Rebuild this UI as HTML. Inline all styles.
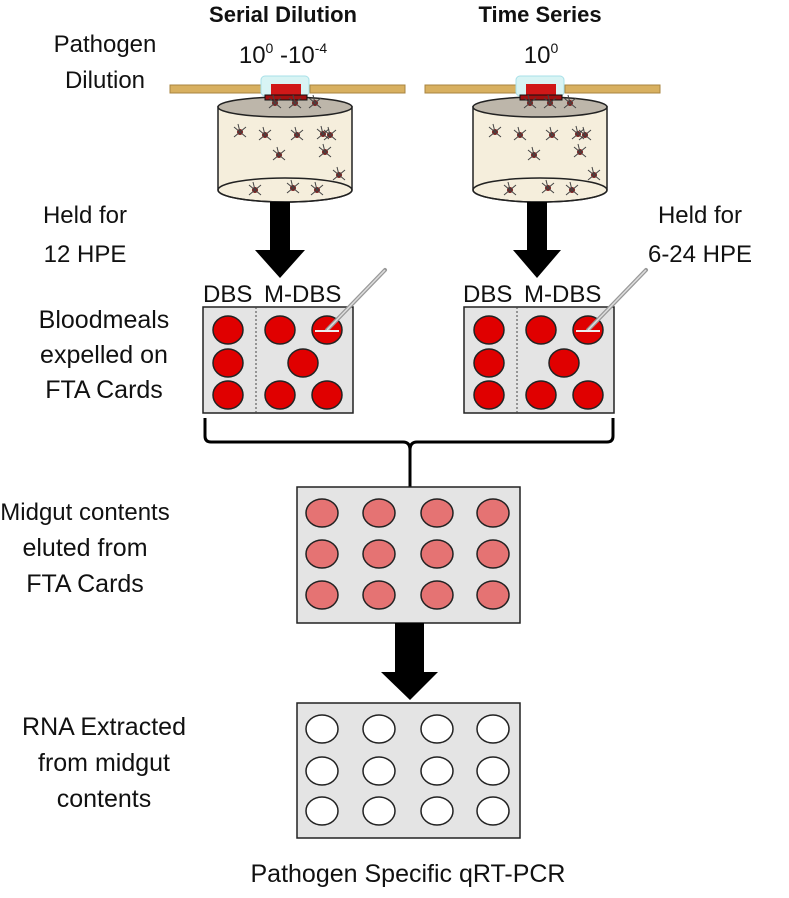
<!DOCTYPE html>
<html><head><meta charset="utf-8"><style>
html,body{margin:0;padding:0;background:#fff}
svg{display:block}
text{font-family:"Liberation Sans",sans-serif;fill:#111}
</style></head><body>
<svg width="789" height="898" viewBox="0 0 789 898" xmlns="http://www.w3.org/2000/svg">
<defs>
<g id="m"><circle r="3" fill="#7a2020"/><path d="M-6 -5 L6 5 M-6 5 L6 -5 M0 0 L-2 -8" stroke="#444" stroke-width="1"/></g>
<g id="cage">
  <rect x="-115" y="-17" width="91" height="8" fill="#d8b060" stroke="#a88440" stroke-width="1"/>
  <rect x="25" y="-17" width="95" height="8" fill="#d8b060" stroke="#a88440" stroke-width="1"/>
  <path d="M-67 5 L-67 88 A67 12 0 0 0 67 88 L67 5 Z" fill="#f5eedc" stroke="#222" stroke-width="1.5"/>
  <ellipse cx="0" cy="5" rx="67" ry="10" fill="#bdb6aa" stroke="#222" stroke-width="1.5"/>
  <ellipse cx="0" cy="88" rx="67" ry="12" fill="none" stroke="#222" stroke-width="1.5"/>
  <rect x="-24" y="-26" width="48" height="20" rx="4" fill="#d8f4f4" stroke="#a8e0e8"/>
  <rect x="-14" y="-18" width="30" height="12" fill="#d01818"/>
  <rect x="-20" y="-7" width="42" height="5" fill="#a01010" stroke="#111"/>
  <use href="#m" x="-45" y="30"/><use href="#m" x="-20" y="33"/><use href="#m" x="12" y="33"/><use href="#m" x="38" y="32"/><use href="#m" x="45" y="33"/>
  <use href="#m" x="-6" y="53"/><use href="#m" x="40" y="50"/><use href="#m" x="54" y="73"/>
  <use href="#m" x="-30" y="88"/><use href="#m" x="8" y="86"/><use href="#m" x="32" y="88"/>
  <use href="#m" x="-10" y="1"/><use href="#m" x="10" y="1"/><use href="#m" x="30" y="1"/>
</g>
<g id="card">
  <rect x="0" y="0" width="150" height="106" fill="#e4e4e4" stroke="#222" stroke-width="1.5"/>
  <line x1="53" y1="0" x2="53" y2="106" stroke="#444" stroke-dasharray="2,2"/>
  <g fill="#e00000" stroke="#222" stroke-width="1.5">
    <ellipse cx="25" cy="23" rx="15" ry="14"/><ellipse cx="77" cy="23" rx="15" ry="14"/><ellipse cx="124" cy="23" rx="15" ry="14"/>
    <ellipse cx="25" cy="56" rx="15" ry="14"/><ellipse cx="100" cy="56" rx="15" ry="14"/>
    <ellipse cx="25" cy="88" rx="15" ry="14"/><ellipse cx="77" cy="88" rx="15" ry="14"/><ellipse cx="124" cy="88" rx="15" ry="14"/>
  </g>
  <line x1="124" y1="23" x2="182" y2="-37" stroke="#999" stroke-width="4" stroke-linecap="round"/>
  <line x1="124" y1="23" x2="182" y2="-37" stroke="#ddd" stroke-width="1.5"/>
  <line x1="112" y1="24" x2="136" y2="24" stroke="#eee" stroke-width="2"/>
</g>
</defs>

<text x="283" y="22" font-size="22" font-weight="bold" text-anchor="middle">Serial Dilution</text>
<text x="540" y="22" font-size="22" font-weight="bold" text-anchor="middle">Time Series</text>
<text x="283" y="63" font-size="24" text-anchor="middle">10<tspan font-size="14" dy="-10">0</tspan><tspan dy="10"> -10</tspan><tspan font-size="14" dy="-10">-4</tspan></text>
<text x="541" y="63" font-size="24" text-anchor="middle">10<tspan font-size="14" dy="-10">0</tspan></text>
<text x="105" y="52" font-size="24" text-anchor="middle">Pathogen</text>
<text x="105" y="88" font-size="24" text-anchor="middle">Dilution</text>

<use href="#cage" transform="translate(285,102)"/>
<use href="#cage" transform="translate(540,102)"/>

<path d="M270 202 H290 V250 H305 L280 278 L255 250 H270 Z" fill="#000"/>
<path d="M527 202 H547 V250 H561 L537 278 L513 250 H527 Z" fill="#000"/>

<text x="85" y="223" font-size="24" text-anchor="middle">Held for</text>
<text x="85" y="262" font-size="24" text-anchor="middle">12 HPE</text>
<text x="700" y="223" font-size="24" text-anchor="middle">Held for</text>
<text x="700" y="262" font-size="24" text-anchor="middle">6-24 HPE</text>

<text x="203" y="302" font-size="24">DBS</text><text x="264" y="302" font-size="24">M-DBS</text>
<text x="463" y="302" font-size="24">DBS</text><text x="524" y="302" font-size="24">M-DBS</text>
<use href="#card" transform="translate(203,307)"/>
<use href="#card" transform="translate(464,307)"/>

<text x="104" y="328" font-size="25" text-anchor="middle">Bloodmeals</text>
<text x="104" y="363" font-size="25" text-anchor="middle">expelled on</text>
<text x="104" y="398" font-size="25" text-anchor="middle">FTA Cards</text>

<path d="M205 418 V436 Q205 442 211 442 H403 Q410 442 410 450 V487 M410 450 Q410 442 417 442 H607 Q613 442 613 436 V418" fill="none" stroke="#000" stroke-width="3"/>

<rect x="297" y="487" width="223" height="136" fill="#e4e4e4" stroke="#222" stroke-width="1.5"/>
<g fill="#e57373" stroke="#222" stroke-width="1.5">
  <ellipse cx="322" cy="513" rx="16" ry="14"/><ellipse cx="379" cy="513" rx="16" ry="14"/><ellipse cx="437" cy="513" rx="16" ry="14"/><ellipse cx="493" cy="513" rx="16" ry="14"/>
  <ellipse cx="322" cy="554" rx="16" ry="14"/><ellipse cx="379" cy="554" rx="16" ry="14"/><ellipse cx="437" cy="554" rx="16" ry="14"/><ellipse cx="493" cy="554" rx="16" ry="14"/>
  <ellipse cx="322" cy="595" rx="16" ry="14"/><ellipse cx="379" cy="595" rx="16" ry="14"/><ellipse cx="437" cy="595" rx="16" ry="14"/><ellipse cx="493" cy="595" rx="16" ry="14"/>
</g>
<text x="85" y="520" font-size="24" text-anchor="middle">Midgut contents</text>
<text x="85" y="556" font-size="25" text-anchor="middle">eluted from</text>
<text x="85" y="592" font-size="25" text-anchor="middle">FTA Cards</text>

<path d="M395 623 H424 V672 H438 L410 700 L381 672 H395 Z" fill="#000"/>

<rect x="297" y="703" width="223" height="135" fill="#e4e4e4" stroke="#222" stroke-width="1.5"/>
<g fill="#fff" stroke="#222" stroke-width="1.5">
  <ellipse cx="322" cy="729" rx="16" ry="14"/><ellipse cx="379" cy="729" rx="16" ry="14"/><ellipse cx="437" cy="729" rx="16" ry="14"/><ellipse cx="493" cy="729" rx="16" ry="14"/>
  <ellipse cx="322" cy="771" rx="16" ry="14"/><ellipse cx="379" cy="771" rx="16" ry="14"/><ellipse cx="437" cy="771" rx="16" ry="14"/><ellipse cx="493" cy="771" rx="16" ry="14"/>
  <ellipse cx="322" cy="811" rx="16" ry="14"/><ellipse cx="379" cy="811" rx="16" ry="14"/><ellipse cx="437" cy="811" rx="16" ry="14"/><ellipse cx="493" cy="811" rx="16" ry="14"/>
</g>
<text x="104" y="735" font-size="25" text-anchor="middle">RNA Extracted</text>
<text x="104" y="771" font-size="25" text-anchor="middle">from midgut</text>
<text x="104" y="807" font-size="25" text-anchor="middle">contents</text>

<text x="408" y="882" font-size="25" text-anchor="middle">Pathogen Specific qRT-PCR</text>
</svg>
</body></html>
